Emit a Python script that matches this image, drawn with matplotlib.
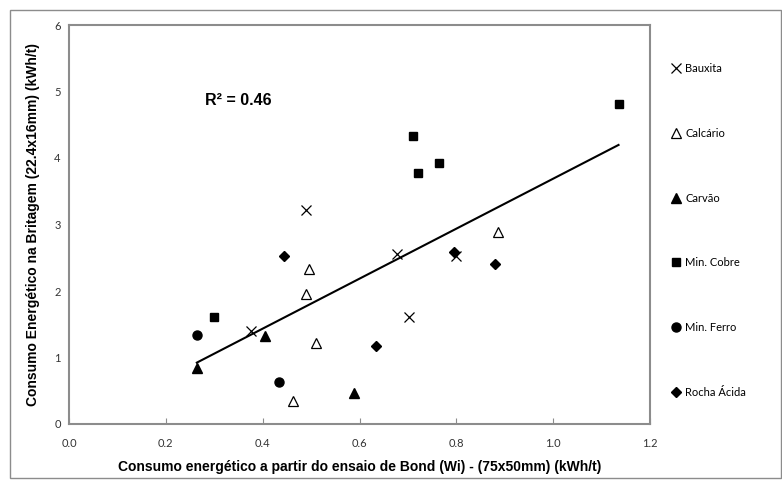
import numpy as np
import matplotlib
import matplotlib.pyplot as plt
from matplotlib.patches import Rectangle

matplotlib.use("Agg")

# Wi (75x50mm) vs crushing energy (22.4x16mm), kWh/t
bauxita_x = [0.376, 0.49, 0.677, 0.703, 0.80]
bauxita_y = [1.40, 3.22, 2.56, 1.61, 2.53]

calcario_x = [0.463, 0.49, 0.495, 0.51, 0.886]
calcario_y = [0.35, 1.95, 2.33, 1.22, 2.89]

carvao_x = [0.265, 0.405, 0.588]
carvao_y = [0.84, 1.32, 0.46]

cobre_x = [0.30, 0.71, 0.72, 0.765, 1.135]
cobre_y = [1.61, 4.33, 3.78, 3.93, 4.81]

ferro_x = [0.264, 0.434]
ferro_y = [1.34, 0.63]

rocha_x = [0.445, 0.634, 0.795, 0.879]
rocha_y = [2.52, 1.18, 2.59, 2.41]

r2_label = "R² = 0.46"

W, H = 782, 488
fig = plt.figure(figsize=(W / 100, H / 100), dpi=100)
ax = fig.add_axes([69 / W, 1 - 424 / H, (650 - 69) / W, (424 - 25) / H])

# chart border
fig.patches.append(Rectangle((10 / W, 10 / H), 771 / W, 468 / H,
                             transform=fig.transFigure, fill=False,
                             edgecolor="#8c8c8c", linewidth=1.0))

ax.plot(bauxita_x, bauxita_y, 'x', color='black', ms=7, mew=0.9, label="Bauxita")
ax.plot(calcario_x, calcario_y, '^', mfc='white', mec='black', ms=7, mew=0.9, label="Calcário")
ax.plot(carvao_x, carvao_y, '^', color='black', ms=7, label="Carvão")
ax.plot(cobre_x, cobre_y, 's', color='black', ms=6, label="Min. Cobre")
ax.plot(ferro_x, ferro_y, 'o', color='black', ms=6.5, label="Min. Ferro")
ax.plot(rocha_x, rocha_y, 'D', color='black', ms=5.5, label="Rocha Ácida")

# linear trend over all samples
all_x = np.array(bauxita_x + calcario_x + carvao_x + cobre_x + ferro_x + rocha_x)
all_y = np.array(bauxita_y + calcario_y + carvao_y + cobre_y + ferro_y + rocha_y)
slope, intercept = np.polyfit(all_x, all_y, 1)
xs = np.array([all_x.min(), all_x.max()])
ax.plot(xs, slope * xs + intercept, color='black', lw=1.5)

ax.text(0.28, 4.86, r2_label, fontsize=11.5, fontweight='bold',
        family='Liberation Sans', va='center')

ax.set_xlim(0, 1.2)
ax.set_ylim(0, 6)
ax.set_xticks(np.arange(0, 1.21, 0.2))
ax.set_xticklabels([f"{v:.1f}" for v in np.arange(0, 1.21, 0.2)])
ax.set_yticks(range(7))
ax.tick_params(axis='x', direction='in', length=4, color='#8c8c8c', pad=10,
               labelsize=8, labelcolor='#333333')
ax.tick_params(axis='y', length=0, pad=6, labelsize=8, labelcolor='#333333')
for lbl in ax.get_xticklabels() + ax.get_yticklabels():
    lbl.set_family('Lato')
for sp in ax.spines.values():
    sp.set_color('#8c8c8c')
    sp.set_linewidth(1.5)

ax.set_xlabel("Consumo energético a partir do ensaio de Bond (Wi) - (75x50mm) (kWh/t)",
              fontsize=10, fontweight='bold', family='Liberation Sans')
ax.set_ylabel("Consumo Energético na Britagem (22.4x16mm) (kWh/t)",
              fontsize=10, fontweight='bold', family='Liberation Sans')
ax.xaxis.set_label_coords(0.5, -(467 - 424) / (424 - 25), transform=ax.transAxes)
ax.yaxis.set_label_coords(-(69 - 33) / (650 - 69), 0.5, transform=ax.transAxes)
ax.xaxis.label.set_va('center')
ax.yaxis.label.set_va('center')

fig.legend(loc='upper left', bbox_to_anchor=(672 / W, 1 - 63 / H),
           frameon=False, prop={'family': 'Lato', 'size': 8},
           handlelength=0.8, handletextpad=0.4, labelspacing=4.84,
           borderaxespad=0, borderpad=0)

fig.savefig("out.png", dpi=100)
